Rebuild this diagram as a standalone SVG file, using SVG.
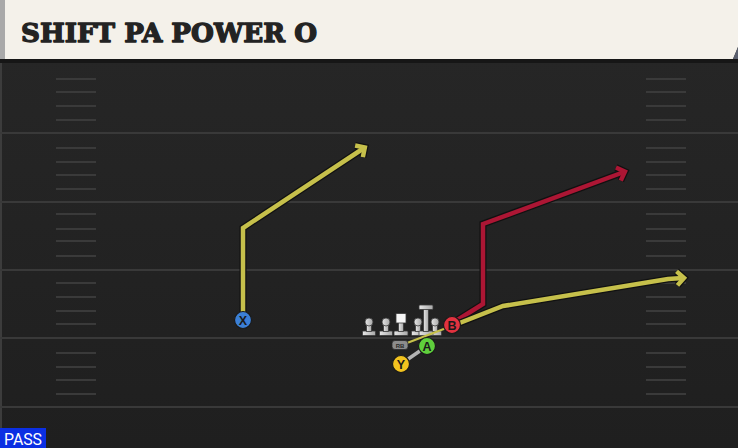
<svg xmlns="http://www.w3.org/2000/svg" width="738" height="448" viewBox="0 0 738 448">
  <style>
    .fline { stroke: #393939; stroke-width: 2; }
    .hash { stroke: #3a3a3a; stroke-width: 2; }
    .out { fill: none; stroke: #111; stroke-width: 7; stroke-linejoin: miter; stroke-linecap: butt; }
    .yel { fill: none; stroke: #c6c04b; stroke-width: 4.5; stroke-linejoin: miter; }
    .red { fill: none; stroke: #ac1634; stroke-width: 4.5; stroke-linejoin: miter; }
    .pawn { fill: url(#pawng); stroke: #3a3a3a; stroke-width: 0.8; }
    .lbl { font-family: "Liberation Sans", Arial, sans-serif; font-weight: bold; font-size: 12.5px; fill: #1a1a1a; text-anchor: middle; }
    .disc { stroke: #1a1a1a; stroke-width: 1.2; }
  </style>
  <defs>
    <linearGradient id="fieldg" x1="0" y1="0" x2="0" y2="1">
      <stop offset="0" stop-color="#272727"/>
      <stop offset="1" stop-color="#1f1f1f"/>
    </linearGradient>
    <linearGradient id="pawng" x1="0" y1="0" x2="1" y2="0">
      <stop offset="0" stop-color="#e6e6e6"/>
      <stop offset="1" stop-color="#a8a8a8"/>
    </linearGradient>
    <marker id="mOut" markerUnits="userSpaceOnUse" markerWidth="20" markerHeight="20" refX="10" refY="10" orient="auto" viewBox="0 0 20 20">
      <polyline points="4,3 11,10 4,17" fill="none" stroke="#111" stroke-width="7" stroke-linejoin="miter"/>
    </marker>
    <marker id="mYel" markerUnits="userSpaceOnUse" markerWidth="20" markerHeight="20" refX="10" refY="10" orient="auto" viewBox="0 0 20 20">
      <polyline points="4,3 11,10 4,17" fill="none" stroke="#c6c04b" stroke-width="4.5" stroke-linejoin="miter"/>
    </marker>
    <marker id="mRed" markerUnits="userSpaceOnUse" markerWidth="20" markerHeight="20" refX="10" refY="10" orient="auto" viewBox="0 0 20 20">
      <polyline points="4,3 11,10 4,17" fill="none" stroke="#ac1634" stroke-width="4.5" stroke-linejoin="miter"/>
    </marker>
    <g id="pawn">
      <rect x="-6.5" y="-3" width="13" height="4.5" rx="1" class="pawn"/>
      <rect x="-2.5" y="-10" width="5" height="7.5" class="pawn"/>
      <circle cx="0" cy="-12" r="4" class="pawn"/>
    </g>
  </defs>

  <!-- field -->
  <g id="field">
    <rect x="0" y="0" width="738" height="448" fill="url(#fieldg)"/>
    <rect x="0" y="59" width="738" height="4" fill="#161616"/>
    <line x1="1" y1="63" x2="1" y2="448" stroke="#3c3c3c" stroke-width="2"/>
    <line class="fline" x1="0" y1="133" x2="738" y2="133"/>
    <line class="fline" x1="0" y1="202" x2="738" y2="202"/>
    <line class="fline" x1="0" y1="270" x2="738" y2="270"/>
    <line class="fline" x1="0" y1="338" x2="738" y2="338"/>
    <line class="fline" x1="0" y1="407" x2="738" y2="407"/>
    <g id="hash-left" class="hash">
      <line x1="56" y1="79" x2="96" y2="79"/><line x1="56" y1="92" x2="96" y2="92"/>
      <line x1="56" y1="106" x2="96" y2="106"/><line x1="56" y1="120" x2="96" y2="120"/>
      <line x1="56" y1="148" x2="96" y2="148"/><line x1="56" y1="162" x2="96" y2="162"/>
      <line x1="56" y1="175" x2="96" y2="175"/><line x1="56" y1="189" x2="96" y2="189"/>
      <line x1="56" y1="214" x2="96" y2="214"/><line x1="56" y1="229" x2="96" y2="229"/>
      <line x1="56" y1="241" x2="96" y2="241"/><line x1="56" y1="256" x2="96" y2="256"/>
      <line x1="56" y1="283" x2="96" y2="283"/><line x1="56" y1="297" x2="96" y2="297"/>
      <line x1="56" y1="311" x2="96" y2="311"/><line x1="56" y1="324" x2="96" y2="324"/>
      <line x1="56" y1="353" x2="96" y2="353"/><line x1="56" y1="367" x2="96" y2="367"/>
      <line x1="56" y1="380" x2="96" y2="380"/><line x1="56" y1="394" x2="96" y2="394"/>
    </g>
    <g id="hash-right" class="hash">
      <line x1="646" y1="79" x2="686" y2="79"/><line x1="646" y1="92" x2="686" y2="92"/>
      <line x1="646" y1="106" x2="686" y2="106"/><line x1="646" y1="120" x2="686" y2="120"/>
      <line x1="646" y1="148" x2="686" y2="148"/><line x1="646" y1="162" x2="686" y2="162"/>
      <line x1="646" y1="175" x2="686" y2="175"/><line x1="646" y1="189" x2="686" y2="189"/>
      <line x1="646" y1="214" x2="686" y2="214"/><line x1="646" y1="229" x2="686" y2="229"/>
      <line x1="646" y1="241" x2="686" y2="241"/><line x1="646" y1="256" x2="686" y2="256"/>
      <line x1="646" y1="283" x2="686" y2="283"/><line x1="646" y1="297" x2="686" y2="297"/>
      <line x1="646" y1="311" x2="686" y2="311"/><line x1="646" y1="324" x2="686" y2="324"/>
      <line x1="646" y1="353" x2="686" y2="353"/><line x1="646" y1="367" x2="686" y2="367"/>
      <line x1="646" y1="380" x2="686" y2="380"/><line x1="646" y1="394" x2="686" y2="394"/>
    </g>
  </g>

  <!-- header -->
  <g id="header">
    <polygon points="0,0 738,0 738,47 733,59 0,59" fill="#f4f1ea"/>
    <polygon points="738,47 733,59 738,59" fill="#5a5f6e"/>
    <rect x="0" y="0" width="5" height="59" fill="#a9a9a9"/>
    <text x="21" y="42" font-family="'DejaVu Serif', 'Liberation Serif', serif" font-weight="bold" font-size="26" fill="#232323" stroke="#232323" stroke-width="1.3" stroke-linejoin="round" textLength="296" lengthAdjust="spacingAndGlyphs">SHIFT PA POWER O</text>
  </g>

  <!-- offensive line -->
  <g id="line">
    <use href="#pawn" x="369" y="334"/>
    <use href="#pawn" x="386" y="334"/>
    <g id="center">
      <rect x="394" y="331" width="14" height="4.5" rx="1" class="pawn"/>
      <rect x="398.5" y="322" width="5" height="9.5" class="pawn"/>
      <rect x="396" y="313.5" width="10" height="9.5" fill="#f6f6f6" stroke="#3a3a3a" stroke-width="0.8"/>
    </g>
    <use href="#pawn" x="418" y="334"/>
    <use href="#pawn" x="435" y="334"/>
    <g id="tall-t">
      <rect x="419" y="331" width="14" height="4.5" rx="1" class="pawn"/>
      <rect x="423.5" y="309" width="5" height="22.5" class="pawn"/>
      <rect x="419" y="305" width="14" height="4.5" rx="1" class="pawn"/>
    </g>
  </g>

  <!-- connectors -->
  <g id="connectors">
    <line x1="401" y1="364" x2="427" y2="346" stroke="#b3b3b3" stroke-width="3.5"/>
    <line x1="407" y1="343" x2="449" y2="327" stroke="#c6c04b" stroke-width="2"/>
    <path class="out" d="M243,320 V228 L364,148" marker-end="url(#mOut)"/>
    <path class="yel" d="M243,320 V228 L364,148" marker-end="url(#mYel)"/>
    <path class="out" d="M451,324 L483,304 V224 L624,172" marker-end="url(#mOut)"/>
    <path class="red" d="M451,324 L483,304 V224 L624,172" marker-end="url(#mRed)"/>
    <path class="out" d="M452,326 L503,306 L668,279 L683,278" marker-end="url(#mOut)"/>
    <path class="yel" d="M452,326 L503,306 L668,279 L683,278" marker-end="url(#mYel)"/>
  </g>

  <!-- players -->
  <g id="RB">
    <rect x="392" y="340.5" width="16" height="9" rx="3" fill="#8c8c8c" stroke="#2a2a2a" stroke-width="0.8"/>
    <text x="400" y="347.5" font-family="'Liberation Sans', Arial, sans-serif" font-weight="bold" font-size="6" fill="#2a2a2a" text-anchor="middle">RB</text>
  </g>
  <g id="X">
    <circle cx="243" cy="320" r="8.5" fill="#3b7fd6" class="disc"/>
    <text x="243" y="324.5" class="lbl">X</text>
  </g>
  <g id="B">
    <circle cx="452" cy="325" r="8.5" fill="#e2323f" class="disc"/>
    <text x="452" y="329.5" class="lbl">B</text>
  </g>
  <g id="A">
    <circle cx="427" cy="346" r="8.5" fill="#5fcf3c" class="disc"/>
    <text x="427" y="350.5" class="lbl">A</text>
  </g>
  <g id="Y">
    <circle cx="401" cy="364" r="8.5" fill="#f2c31f" class="disc"/>
    <text x="401" y="368.5" class="lbl">Y</text>
  </g>

  <g id="pass-badge">
    <rect x="0" y="428" width="46" height="20" fill="#0b2fe3"/>
    <text x="4" y="445" font-family="Roboto, 'Liberation Sans', sans-serif" font-size="16" fill="#ffffff" textLength="38" lengthAdjust="spacingAndGlyphs">PASS</text>
  </g>
</svg>
